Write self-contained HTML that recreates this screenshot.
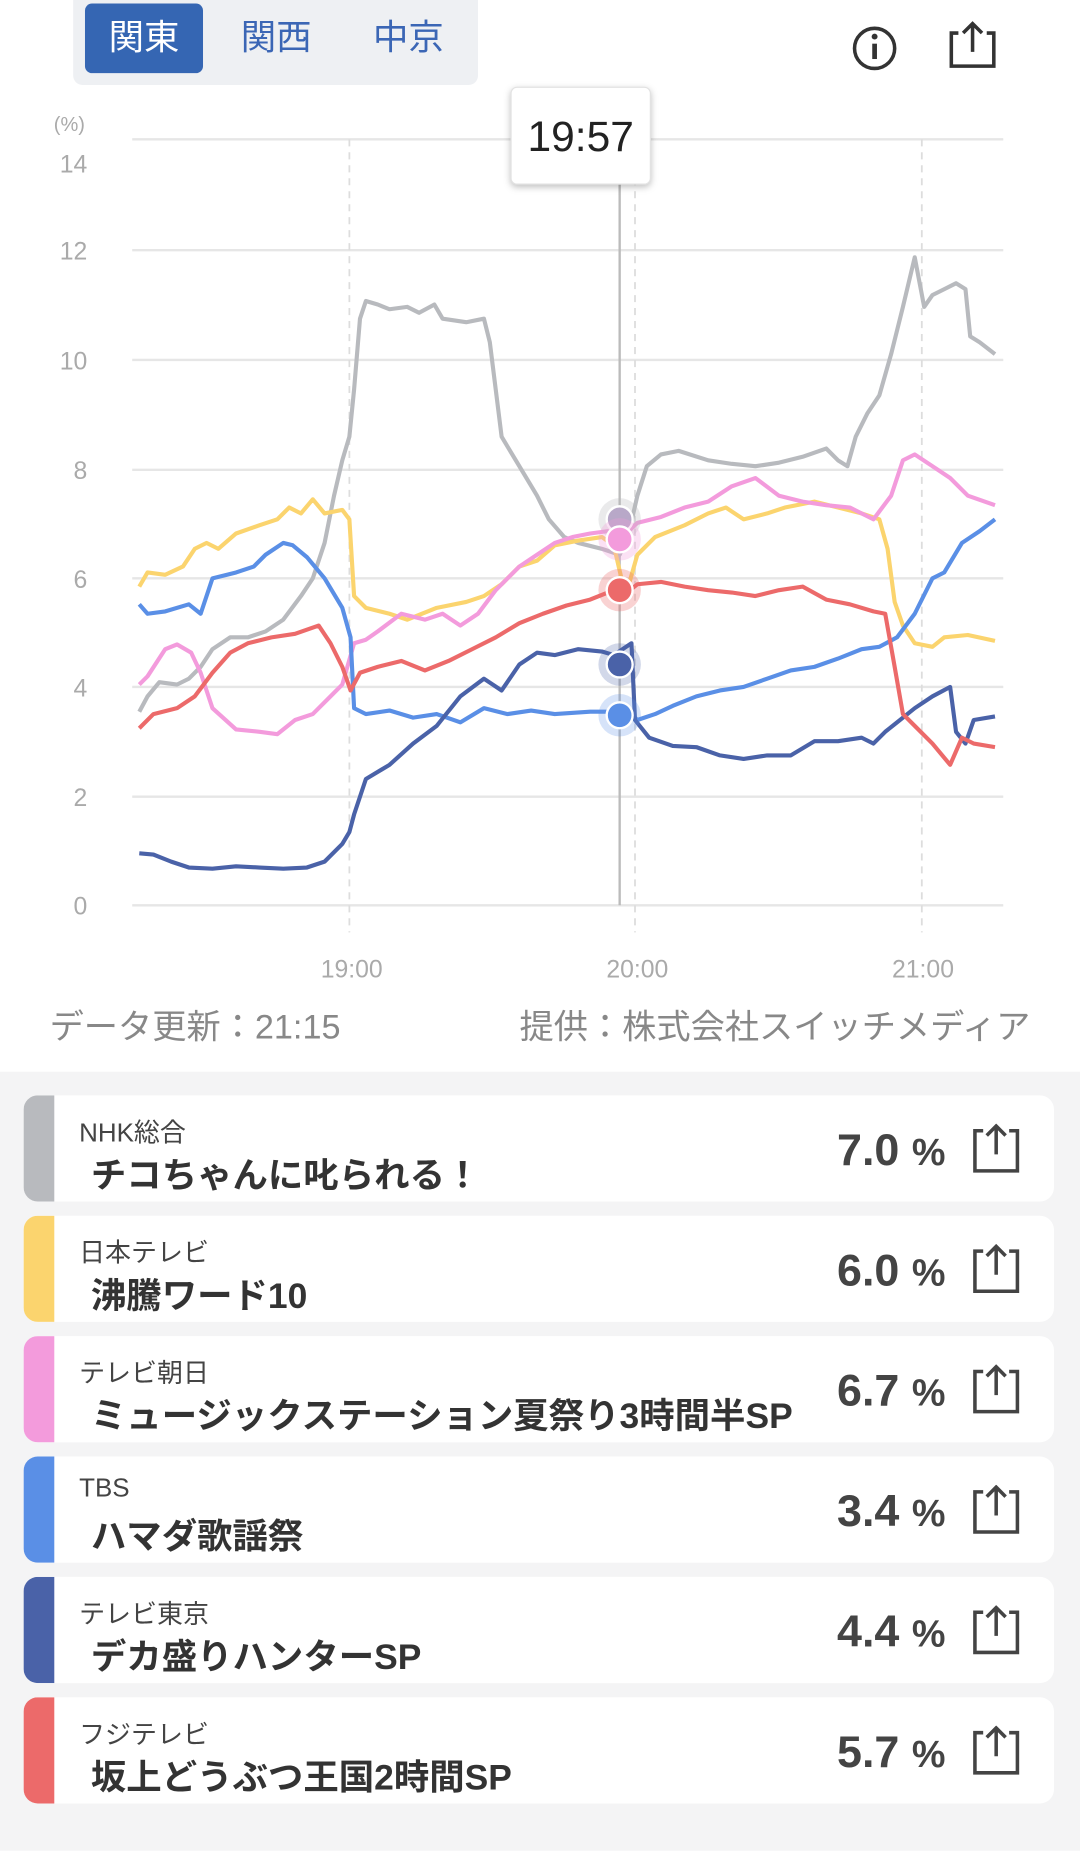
<!DOCTYPE html>
<html><head><meta charset="utf-8"><style>
html,body{margin:0;padding:0;background:#fff;width:1080px;height:1850px;overflow:hidden}
#w{position:absolute;left:0;top:0;width:915px;height:1568px;transform:scale(1.1803);transform-origin:0 0;font-family:"Liberation Sans","Noto Sans CJK JP",sans-serif}
.tabs{position:absolute;left:62px;top:0;width:343px;height:72px;background:#eef0f3;border-radius:0 0 8px 8px}
.tab{position:absolute;top:3px;height:59px;line-height:59px;font-size:30px;color:#3b66b5;text-align:center;width:100px}
.act{background:#3566b3;color:#fff;border-radius:6px}
.bot{position:absolute;left:0;top:908px;width:915px;height:660px;background:#f4f4f5}
.card{position:absolute;left:20px;width:873px;height:90px;background:#fff;border-radius:12px;overflow:hidden}
.bar{position:absolute;left:0;top:0;width:26px;height:90px}
.st{position:absolute;left:47px;top:14px;font-size:22px;color:#444}
.ti{position:absolute;left:57px;top:43px;font-size:30px;font-weight:bold;color:#333;white-space:nowrap}
.pc{position:absolute;right:92px;top:26px;font-size:38px;font-weight:bold;color:#444}
.pc span{font-size:32px;font-weight:bold}
.sh{position:absolute;right:28px;top:24px}
</style></head><body><div id="w">
<div class="tabs"><div class="tab act" style="left:10px">関東</div><div class="tab" style="left:122px">関西</div><div class="tab" style="left:234px">中京</div></div>
<svg style="position:absolute;left:0;top:0" width="915" height="908">
<circle cx="741" cy="41" r="17" fill="none" stroke="#333" stroke-width="3"/><rect x="739" y="37" width="4" height="13" fill="#333"/><circle cx="741" cy="31" r="2.5" fill="#333"/>
<path d="M812 28 h-6 v28 h36 v-28 h-6" fill="none" stroke="#333" stroke-width="3"/><path d="M824 44 v-24 M816 28 l8 -8 8 8" fill="none" stroke="#333" stroke-width="3"/>
<g stroke="#e6e6e6" stroke-width="2">
<line x1="112" x2="850" y1="118" y2="118"/><line x1="112" x2="850" y1="212" y2="212"/><line x1="112" x2="850" y1="305" y2="305"/><line x1="112" x2="850" y1="398" y2="398"/><line x1="112" x2="850" y1="490" y2="490"/><line x1="112" x2="850" y1="582" y2="582"/><line x1="112" x2="850" y1="675" y2="675"/><line x1="112" x2="850" y1="767" y2="767"/></g>
<g stroke="#ddd" stroke-width="1.5" stroke-dasharray="6,5"><line x1="296" x2="296" y1="118" y2="790"/><line x1="538" x2="538" y1="118" y2="790"/><line x1="781" x2="781" y1="118" y2="790"/></g>
<g font-size="21" fill="#aaa" text-anchor="end" font-family="Liberation Sans,sans-serif">
<text x="72" y="111" font-size="17">(%)</text><text x="74" y="146">14</text><text x="74" y="220">12</text><text x="74" y="313">10</text><text x="74" y="406">8</text><text x="74" y="498">6</text><text x="74" y="590">4</text><text x="74" y="683">2</text><text x="74" y="775">0</text></g>
<g font-size="21" fill="#aaa" text-anchor="middle"><text x="298" y="828">19:00</text><text x="540" y="828">20:00</text><text x="782" y="828">21:00</text></g>
<line x1="525" x2="525" y1="150" y2="767" stroke="#bbb" stroke-width="2"/>
<g fill="none" stroke-width="3.5" stroke-linejoin="round">
<polyline stroke="#b8babe" points="118,603 125,590 135,578 150,580 160,575 170,565 180,550 195,540 210,540 225,535 240,525 255,505 265,490 275,460 283,420 290,390 296,370 300,330 305,270 310,255 320,258 330,262 345,260 355,265 368,258 375,270 395,273 410,270 415,290 425,370 440,395 455,420 465,440 478,455 490,460 510,465 525,470 532,455 540,420 548,395 560,385 575,382 600,390 620,393 640,395 660,392 680,387 700,380 710,390 718,395 725,370 735,350 745,335 755,300 765,260 775,218 783,260 790,250 800,245 810,240 818,245 822,285 830,290 843,300"/>
<polyline stroke="#fbd46e" points="118,497 125,485 140,487 155,480 165,465 175,460 185,465 200,452 220,445 235,440 245,430 255,435 265,423 275,435 290,432 296,440 300,505 310,515 330,520 345,525 370,515 395,510 410,505 425,495 440,480 455,475 470,462 490,458 510,455 520,462 530,505 540,470 555,455 580,445 600,435 615,430 630,440 650,435 665,430 690,425 710,430 730,435 745,440 752,465 758,510 765,530 775,545 790,548 800,540 820,538 843,543"/>
<polyline stroke="#f39bdc" points="118,580 125,573 140,550 150,546 162,553 170,570 180,600 200,618 220,620 235,622 250,610 265,605 280,590 290,580 300,545 310,542 320,535 340,520 360,525 375,520 390,530 405,520 420,500 440,480 455,470 470,460 485,455 500,452 515,450 525,457 540,443 560,438 580,430 600,425 620,412 640,405 660,420 680,425 700,428 720,430 740,440 755,420 765,390 775,385 790,395 805,405 820,420 843,428"/>
<polyline stroke="#5a8fe6" points="118,512 125,520 140,518 160,512 170,520 180,490 200,485 215,480 225,470 240,460 248,462 260,472 275,490 290,515 297,540 300,600 310,605 330,602 350,608 370,605 390,612 410,600 430,605 450,602 470,605 500,603 520,603 530,600 540,610 555,605 570,598 590,590 610,585 630,582 650,575 670,568 690,565 710,558 730,550 745,548 760,540 775,520 790,490 800,485 815,460 830,450 843,440"/>
<polyline stroke="#4a62a8" points="118,723 130,724 145,730 160,735 180,736 200,734 220,735 240,736 260,735 275,730 290,715 296,705 300,690 310,660 330,648 350,630 370,615 390,590 410,575 425,585 440,563 455,553 470,555 490,550 510,552 520,555 535,545 538,610 550,625 570,632 590,633 610,640 630,643 650,640 670,640 690,628 710,628 730,625 740,630 750,620 760,612 775,600 790,590 805,582 810,620 818,630 825,610 843,607"/>
<polyline stroke="#ec6a6a" points="118,617 130,605 150,600 165,590 180,570 195,553 210,545 230,540 250,537 270,530 280,545 290,565 297,585 305,570 320,565 340,560 360,568 380,560 400,550 420,540 440,528 460,520 480,513 500,508 520,500 530,503 540,495 560,493 580,497 600,500 620,502 640,505 660,500 680,497 700,508 720,512 740,518 750,520 758,565 765,605 775,615 790,630 805,648 815,625 825,630 843,633"/>
</g>
<g stroke="#fff" stroke-width="2">
<circle cx="525" cy="440" r="18" fill="#b8babe" fill-opacity=".3" stroke="none"/><circle cx="525" cy="440" r="11" fill="#b8a8c8"/>
<circle cx="525" cy="500" r="18" fill="#ec6a6a" fill-opacity=".3" stroke="none"/><circle cx="525" cy="500" r="11" fill="#ec6a6a"/>
<circle cx="525" cy="457" r="18" fill="#f39bdc" fill-opacity=".3" stroke="none"/><circle cx="525" cy="457" r="11" fill="#f39bdc"/>
<circle cx="525" cy="563" r="18" fill="#4a62a8" fill-opacity=".25" stroke="none"/><circle cx="525" cy="563" r="11" fill="#4a62a8"/>
<circle cx="525" cy="606" r="18" fill="#5a8fe6" fill-opacity=".25" stroke="none"/><circle cx="525" cy="606" r="11" fill="#5a8fe6"/></g>
<rect x="433" y="74" width="118" height="82" rx="5" fill="#fff" stroke="#e2e2e2" style="filter:drop-shadow(0 2px 3px rgba(0,0,0,.25))"/>
<text x="492" y="128" text-anchor="middle" font-size="36" fill="#222" font-weight="300">19:57</text>
<text x="42" y="880" font-size="29" fill="#888">データ更新：21:15</text>
<text x="873" y="880" font-size="29" fill="#888" text-anchor="end">提供：株式会社スイッチメディア</text>
</svg>
<div class="bot">
<div class="card" style="top:20px"><div class="bar" style="background:#b8babe"></div><div class="st">NHK総合</div><div class="ti">チコちゃんに叱られる！</div><div class="pc">7.0 <span>%</span></div><svg class="sh" width="42" height="42"><path d="M10 6 h-7 v34 h36 v-34 h-7" fill="none" stroke="#444" stroke-width="3"/><path d="M21 26 v-24 M13 10 l8 -8 8 8" fill="none" stroke="#444" stroke-width="3"/></svg></div>
<div class="card" style="top:122px"><div class="bar" style="background:#fbd46e"></div><div class="st">日本テレビ</div><div class="ti">沸騰ワード10</div><div class="pc">6.0 <span>%</span></div><svg class="sh" width="42" height="42"><path d="M10 6 h-7 v34 h36 v-34 h-7" fill="none" stroke="#444" stroke-width="3"/><path d="M21 26 v-24 M13 10 l8 -8 8 8" fill="none" stroke="#444" stroke-width="3"/></svg></div>
<div class="card" style="top:224px"><div class="bar" style="background:#f39bdc"></div><div class="st">テレビ朝日</div><div class="ti">ミュージックステーション夏祭り3時間半SP</div><div class="pc">6.7 <span>%</span></div><svg class="sh" width="42" height="42"><path d="M10 6 h-7 v34 h36 v-34 h-7" fill="none" stroke="#444" stroke-width="3"/><path d="M21 26 v-24 M13 10 l8 -8 8 8" fill="none" stroke="#444" stroke-width="3"/></svg></div>
<div class="card" style="top:326px"><div class="bar" style="background:#5a8fe6"></div><div class="st">TBS</div><div class="ti">ハマダ歌謡祭</div><div class="pc">3.4 <span>%</span></div><svg class="sh" width="42" height="42"><path d="M10 6 h-7 v34 h36 v-34 h-7" fill="none" stroke="#444" stroke-width="3"/><path d="M21 26 v-24 M13 10 l8 -8 8 8" fill="none" stroke="#444" stroke-width="3"/></svg></div>
<div class="card" style="top:428px"><div class="bar" style="background:#4a62a8"></div><div class="st">テレビ東京</div><div class="ti">デカ盛りハンターSP</div><div class="pc">4.4 <span>%</span></div><svg class="sh" width="42" height="42"><path d="M10 6 h-7 v34 h36 v-34 h-7" fill="none" stroke="#444" stroke-width="3"/><path d="M21 26 v-24 M13 10 l8 -8 8 8" fill="none" stroke="#444" stroke-width="3"/></svg></div>
<div class="card" style="top:530px"><div class="bar" style="background:#ec6a6a"></div><div class="st">フジテレビ</div><div class="ti">坂上どうぶつ王国2時間SP</div><div class="pc">5.7 <span>%</span></div><svg class="sh" width="42" height="42"><path d="M10 6 h-7 v34 h36 v-34 h-7" fill="none" stroke="#444" stroke-width="3"/><path d="M21 26 v-24 M13 10 l8 -8 8 8" fill="none" stroke="#444" stroke-width="3"/></svg></div>
</div>
</div></body></html>
